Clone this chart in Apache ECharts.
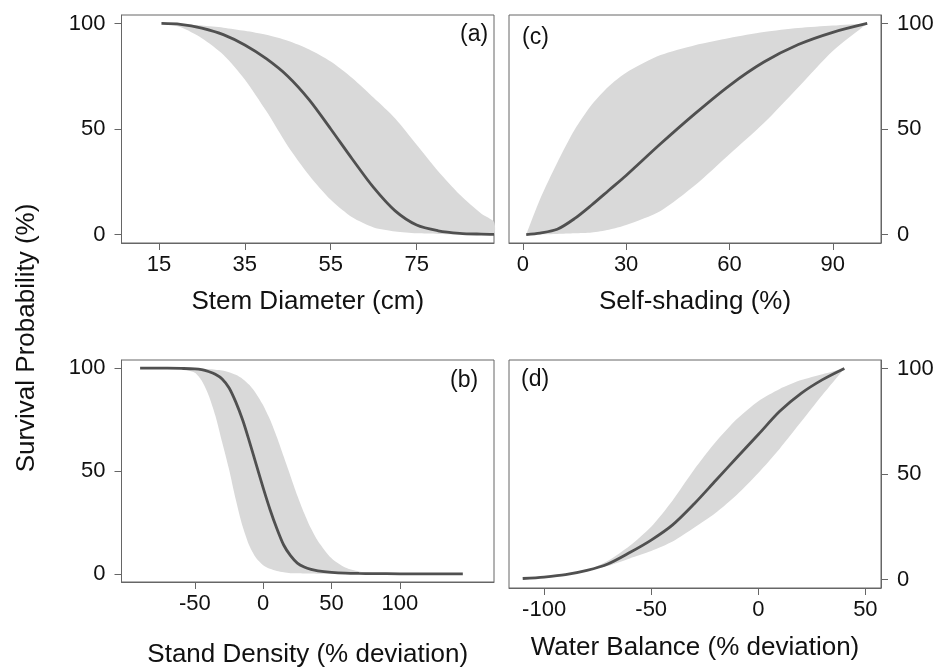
<!DOCTYPE html>
<html>
<head>
<meta charset="utf-8">
<script src="https://cdn.jsdelivr.net/npm/echarts@6/dist/echarts.min.js"></script>
<style>
html,body{margin:0;padding:0;background:#fff;}
#chart{width:938px;height:669px;}
</style>
</head>
<body>
<div id="chart"></div>
<script>
// ---- Panel (a): Stem Diameter (cm)
const aX    = [15.6, 20, 25, 30, 35, 40, 45, 50, 55, 60, 65, 70, 75, 80, 85, 90, 93];
const aMean = [100, 99.6, 97.8, 94.7, 89.8, 83.3, 75, 63.8, 50, 35.8, 22.2, 11.2, 4.5, 1.8, 0.6, 0.2, 0.1];
const aHigh = [100, 99.7, 99, 98, 96.5, 94.6, 91.8, 87.7, 82, 74.2, 64.8, 55, 42.5, 30, 19, 10, 6];
const aLow  = [100, 98.3, 93, 85.2, 73.5, 58.5, 42, 28, 16.5, 8.2, 3.4, 1.5, 0.6, 0.3, 0.1, 0, 0];
const aTicks = [15, 35, 55, 75];

// ---- Panel (c): Self-shading (%)
const cX    = [1, 5, 10, 15, 20, 25, 30, 40, 50, 60, 70, 80, 90, 100];
const cMean = [0, 0.7, 2.5, 7.5, 14, 21, 28, 43, 57.3, 70.6, 81.7, 90, 95.8, 100];
const cHigh = [0, 16.7, 34, 49.5, 61.5, 70.3, 76.7, 85, 89.7, 93.1, 95.9, 97.8, 99, 100];
const cLow  = [0, 0.1, 0.3, 0.6, 1, 2.3, 4.5, 11.2, 23.3, 38, 52.8, 69.8, 87, 100];
const cTicks = [0, 30, 60, 90];

// ---- Panel (b): Stand Density (% deviation)
const bX    = [-90, -70, -60, -50, -45, -40, -35, -30, -25, -20, -15, -10, -5, 0, 5, 10, 15, 20, 25, 30, 35, 40, 50, 60, 70, 80, 100, 146];
const bMean = [100, 100, 99.9, 99.7, 99.3, 98.4, 97.1, 94.8, 90.5, 83.5, 74.8, 64.2, 53, 41.8, 31.3, 22, 14, 8.8, 5.2, 3.3, 2.1, 1.4, 0.7, 0.3, 0.15, 0.1, 0, 0];
const bHigh = [100, 100, 100, 99.9, 99.8, 99.6, 99.3, 98.9, 98.1, 96.8, 94.8, 91.8, 87.5, 82, 75, 66.5, 57, 47.5, 38, 29.5, 22, 16, 7.5, 3, 1.1, 0.4, 0.1, 0];
const bLow  = [100, 99.9, 99.6, 97.8, 94, 87, 77, 64, 51, 36, 23, 13.5, 7.5, 4.2, 2.4, 1.3, 0.7, 0.3, 0.2, 0.1, 0.1, 0, 0, 0, 0, 0, 0, 0];
const bTicks = [-50, 0, 50, 100];

// ---- Panel (d): Water Balance (% deviation)
const dX    = [-110, -100, -90, -80, -70, -60, -50, -40, -30, -20, -10, 0, 10, 20, 30, 40.2];
const dMean = [0.5, 1.2, 2.3, 4.3, 7.5, 12.8, 18.7, 25.9, 35.8, 46.8, 57.8, 68.7, 79.7, 88.2, 94.7, 100];
const dHigh = [0.5, 1.2, 2.3, 4.3, 9, 16, 25, 37.5, 52, 65, 76, 84.5, 90.3, 94.5, 97.3, 100];
const dLow  = [0.5, 1.2, 2.3, 4.3, 6.5, 10, 13.5, 18, 24.5, 31.5, 40.2, 50.5, 62, 74.7, 87.5, 100];
const dTicks = [-100, -50, 0, 50];

const yTicks = [0, 50, 100];

const FONT = 'Liberation Sans, Arial, Helvetica, sans-serif';
const LINE = '#505050';
const BAND = '#d9d9d9';
const AXC  = '#666666';

const grids = [
  {left: 121.5, top: 15, width: 372.5, height: 228},   // a
  {left: 509,   top: 15, width: 372,   height: 228},   // c
  {left: 121.5, top: 360, width: 372.5, height: 228},  // b
  {left: 509,   top: 360, width: 372,   height: 228}   // d
];

const xSpec = [
  {min: 6.3,    max: 93,    ticks: aTicks, name: 'Stem Diameter (cm)', gap: 46},
  {min: -4,     max: 104,   ticks: cTicks, name: 'Self-shading (%)', gap: 46},
  {min: -103.6, max: 168.8, ticks: bTicks, name: 'Stand Density (% deviation)', gap: 60},
  {min: -116.4, max: 57.3,  ticks: dTicks, name: 'Water Balance (% deviation)', gap: 47}
];

const xAxis = xSpec.map((s, i) => ({
  type: 'value', gridIndex: i, min: s.min, max: s.max,
  name: s.name, nameLocation: 'middle', nameGap: s.gap,
  nameTextStyle: {fontFamily: FONT, fontSize: 26, color: '#111'},
  axisLine: {show: true, onZero: false, lineStyle: {color: AXC, width: 1}},
  axisTick: {show: true, length: 7, customValues: s.ticks, lineStyle: {color: AXC, width: 1}},
  axisLabel: {show: true, customValues: s.ticks, margin: 11, fontFamily: FONT, fontSize: 22, color: '#111'},
  splitLine: {show: false}
}));

const yAxis = [0, 1, 2, 3].map(i => ({
  type: 'value', gridIndex: i, min: -4, max: 104,
  position: (i === 1 || i === 3) ? 'right' : 'left',
  axisLine: {show: true, onZero: false, lineStyle: {color: AXC, width: 1}},
  axisTick: {show: true, length: 7, customValues: yTicks, lineStyle: {color: AXC, width: 1}},
  axisLabel: {show: true, customValues: yTicks, margin: 16, fontFamily: FONT, fontSize: 22, color: '#111'},
  splitLine: {show: false}
}));

function bandSeries(i, xs, low, high) {
  return {
    type: 'custom', xAxisIndex: i, yAxisIndex: i, silent: true, z: 1,
    data: [[xs[0], low[0]]],
    renderItem: function (params, api) {
      const pts = [];
      for (let k = 0; k < xs.length; k++) pts.push(api.coord([xs[k], high[k]]));
      for (let k = xs.length - 1; k >= 0; k--) pts.push(api.coord([xs[k], low[k]]));
      return {
        type: 'polygon',
        shape: {points: pts, smooth: 0.25},
        style: {fill: BAND, stroke: null}
      };
    }
  };
}

function meanSeries(i, xs, mean) {
  return {type: 'line', xAxisIndex: i, yAxisIndex: i, symbol: 'none', smooth: 0.3,
          lineStyle: {color: LINE, width: 2.8}, data: xs.map((x, k) => [x, mean[k]]), z: 3};
}

const series = [
  bandSeries(0, aX, aLow, aHigh), meanSeries(0, aX, aMean),
  bandSeries(1, cX, cLow, cHigh), meanSeries(1, cX, cMean),
  bandSeries(2, bX, bLow, bHigh), meanSeries(2, bX, bMean),
  bandSeries(3, dX, dLow, dHigh), meanSeries(3, dX, dMean)
];

const labelStyle = {fontFamily: FONT, fontSize: 23, fill: '#111'};

const option = {
  animation: false,
  backgroundColor: '#ffffff',
  grid: grids.map(g => Object.assign({show: true, borderColor: AXC, borderWidth: 1, backgroundColor: 'transparent', containLabel: false}, g)),
  xAxis: xAxis,
  yAxis: yAxis,
  series: series,
  graphic: [
    {type: 'text', left: 460, top: 23, style: Object.assign({text: '(a)'}, labelStyle)},
    {type: 'text', left: 522, top: 26, style: Object.assign({text: '(c)'}, labelStyle)},
    {type: 'text', left: 450, top: 369, style: Object.assign({text: '(b)'}, labelStyle)},
    {type: 'text', left: 521, top: 368, style: Object.assign({text: '(d)'}, labelStyle)},
    {type: 'text', x: 14, y: 338, rotation: Math.PI / 2,
     style: {text: 'Survival Probability (%)', fontFamily: FONT, fontSize: 26, fill: '#111', align: 'center', verticalAlign: 'top'}}
  ]
};

const chart = echarts.init(document.getElementById('chart'), null, {renderer: 'canvas'});
chart.setOption(option);
</script>
</body>
</html>
